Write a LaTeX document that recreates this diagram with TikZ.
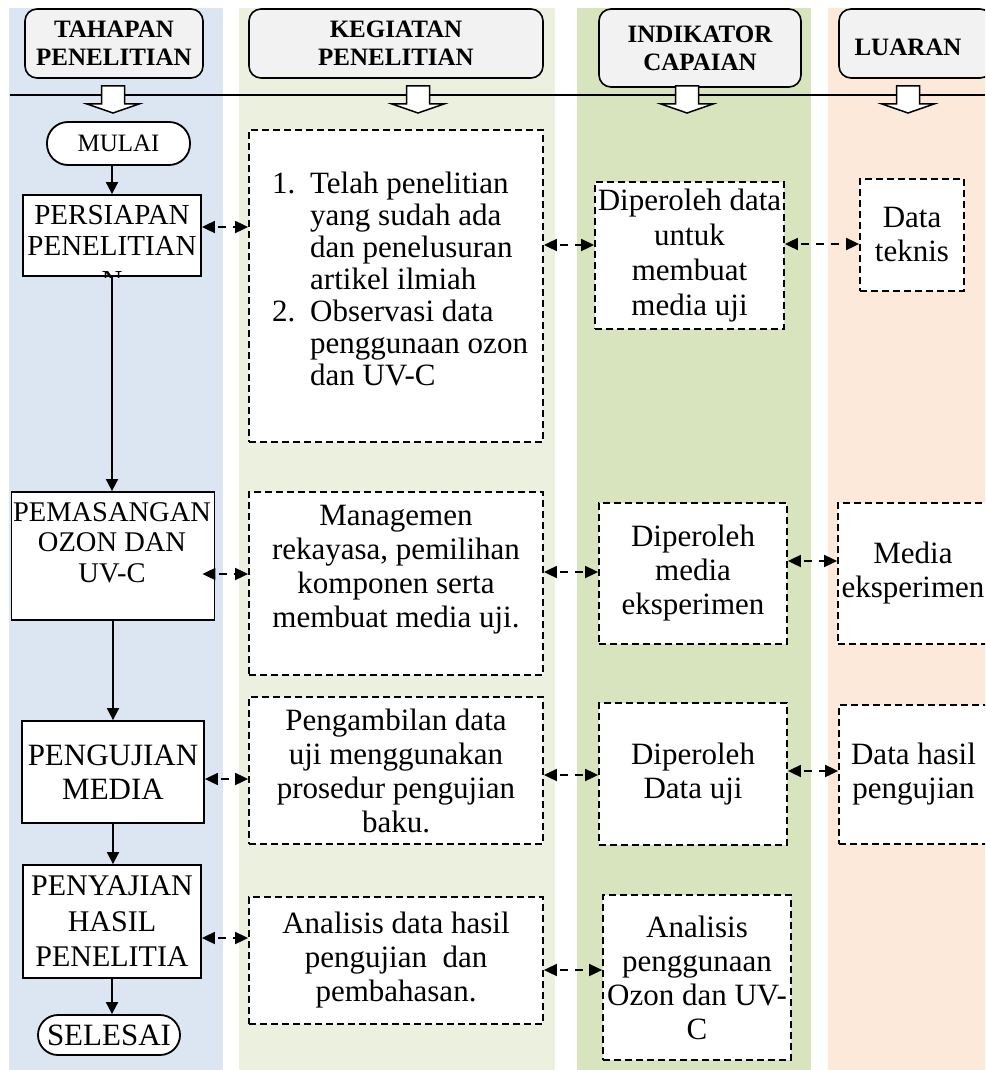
\documentclass[tikz,border=0pt]{standalone}
\usepackage{fontspec}
\setmainfont{Liberation Serif}
\usetikzlibrary{arrows.meta}
\definecolor{cblue}{HTML}{DCE6F2}
\definecolor{clgreen}{HTML}{EBF1DE}
\definecolor{cgreen}{HTML}{D7E4BD}
\definecolor{corange}{HTML}{FDE9D9}
\definecolor{chead}{HTML}{F2F2F2}
\begin{document}
\begin{tikzpicture}[x=1pt,y=-1pt,
  hdr/.style={draw, line width=1.6pt, rounded corners=12pt, fill=chead, inner sep=0pt,
    align=center, font=\fontsize{25}{28}\selectfont\bfseries},
  hdrtxt/.style={inner sep=0pt, align=center, font=\fontsize{25}{28}\selectfont\bfseries},
  solidbox/.style={draw, line width=1.8pt, fill=white, inner sep=0pt, align=center},
  dbox/.style={draw, line width=1.8pt, dash pattern=on 7pt off 4pt, fill=white, inner sep=0pt, align=center},
  body/.style={align=center, inner sep=0pt, font=\fontsize{31}{34}\selectfont},
  flow/.style={line width=1.8pt, -{Triangle[length=12pt,width=12pt]}},
  dbl/.style={line width=1.8pt, dash pattern=on 8pt off 7pt, dash phase=11pt,
    {Triangle[length=13pt,width=12pt]}-{Triangle[length=13pt,width=12pt]}},
  blockar/.style={draw, line width=1.5pt, fill=white, line join=miter}
]
\useasboundingbox (0,0) rectangle (985,1070);
\clip (0,0) rectangle (985,1070);
\fill[white] (0,0) rectangle (985,1070);
% column bands
\fill[cblue] (9,8) rectangle (223,1070);
\fill[clgreen] (239,8) rectangle (555,1070);
\fill[cgreen] (577,8) rectangle (811,1070);
\fill[corange] (828,8) rectangle (985,1070);

% headers
\node[hdr, minimum width=178pt, minimum height=69pt] (hA) at (114,43.5) {TAHAPAN\\PENELITIAN};
\node[hdr, minimum width=294pt, minimum height=69pt] (hB) at (396,43.5) {KEGIATAN\\PENELITIAN};
\node[hdr, minimum width=202pt, minimum height=78pt] (hC) at (700,48) {INDIKATOR\\CAPAIAN};
\node[hdr, minimum width=153pt, minimum height=69pt] (hD) at (915.5,43.5) {};
\node[hdrtxt] (hDt) at (908,47) {LUARAN};

% horizontal rule
\coordinate (hl0) at (10,95);
\coordinate (hl1) at (985,95);
\draw[line width=1.5pt] (hl0) -- (hl1);

% block arrows
\foreach \cx in {113,418,687,908} {
  \draw[blockar] (\cx-11.5,86) -- (\cx+11.5,86) -- (\cx+11.5,104) -- (\cx+26,104)
    -- (\cx,113) -- (\cx-26,104) -- (\cx-11.5,104) -- cycle;
}

% left column
\node[solidbox, rounded corners=21pt, minimum width=143pt, minimum height=43pt,
  font=\fontsize{25}{28}\selectfont] (mulai) at (118.5,143.5) {MULAI};
\node[solidbox, minimum width=178pt, minimum height=81pt] (pers) at (112,235.5) {};
\begin{scope}
  \clip (23,195) rectangle (201,277);
  \node[align=center, inner sep=0pt, font=\fontsize{29}{31}\selectfont] (perst) at (112,248)
    {PERSIAPAN\\PENELITIAN\\[4pt]N};
\end{scope}
\node[solidbox, minimum width=203pt, minimum height=128pt] (pem) at (113,556) {};
\node[align=center, inner sep=0pt, font=\fontsize{28.5}{30.5}\selectfont] (pemt) at (112,542.5)
  {PEMASANGAN\\OZON DAN\\UV-C};
\node[solidbox, minimum width=182pt, minimum height=102pt, font=\fontsize{31}{34}\selectfont]
  (peng) at (113,772) {PENGUJIAN\\MEDIA};
\node[solidbox, minimum width=178pt, minimum height=113pt, font=\fontsize{30}{35.5}\selectfont]
  (peny) at (112,921.5) {PENYAJIAN\\HASIL\\PENELITIA};
\node[solidbox, rounded corners=20pt, minimum width=142pt, minimum height=40pt,
  font=\fontsize{31}{34}\selectfont] (sel) at (109,1035) {SELESAI};

% kegiatan column
\node[dbox, minimum width=294pt, minimum height=312pt] (k1) at (396,286) {};
\node[anchor=west, align=left, inner sep=0pt, font=\fontsize{31}{32}\selectfont] (k1t) at (272,279)
  {\makebox[38pt][l]{1.}Telah penelitian\\
   \makebox[38pt]{}yang sudah ada\\
   \makebox[38pt]{}dan penelusuran\\
   \makebox[38pt]{}artikel ilmiah\\
   \makebox[38pt][l]{2.}Observasi data\\
   \makebox[38pt]{}penggunaan ozon\\
   \makebox[38pt]{}dan UV-C};
\node[dbox, minimum width=294pt, minimum height=183pt] (k2) at (396,583.5) {};
\node[body] (k2t) at (396,570) {Managemen\\rekayasa, pemilihan\\komponen serta\\membuat media uji.};
\node[dbox, body, minimum width=294pt, minimum height=147pt] (k3) at (396,770.5)
  {Pengambilan data\\uji menggunakan\\prosedur pengujian\\baku.};
\node[dbox, body, minimum width=294pt, minimum height=127pt] (k4) at (396,960.5)
  {Analisis data hasil\\pengujian~ dan\\pembahasan.};

% indikator column
\node[dbox, body, minimum width=189pt, minimum height=147pt, font=\fontsize{31}{35}\selectfont] (i1) at (689.5,255.5)
  {Diperoleh data\\untuk\\membuat\\media uji};
\node[dbox, body, minimum width=188pt, minimum height=141pt] (i2) at (693,573.5)
  {Diperoleh\\media\\eksperimen};
\node[dbox, body, minimum width=188pt, minimum height=142pt] (i3) at (693,774)
  {Diperoleh\\Data uji};
\node[dbox, body, minimum width=188pt, minimum height=165pt] (i4) at (697,977.5)
  {Analisis\\penggunaan\\Ozon dan UV-\\C};

% luaran column
\node[dbox, body, minimum width=104pt, minimum height=112pt] (l1) at (912,235) {Data\\teknis};
\node[dbox, body, minimum width=150pt, minimum height=141pt] (l2) at (913,573.5) {Media\\eksperimen};
\node[dbox, body, minimum width=149pt, minimum height=139pt] (l3) at (913.5,774.5) {Data hasil\\pengujian};

% flow connectors
\draw[flow] (mulai.south -| pers.north) -- (pers.north);
\draw[flow] (pers.south) -- (pers.south |- pem.north);
\draw[flow] (pem.south) -- (pem.south |- peng.north);
\draw[flow] (peng.south) -- (peng.south |- peny.north);
\draw[flow] (peny.south) -- (peny.south |- sel.north);

% row coordinates for dashed connectors
\coordinate (r1) at (0,227);
\coordinate (r2) at (0,245);
\coordinate (r3) at (0,244);
\coordinate (r4) at (0,574);
\coordinate (r5) at (0,572);
\coordinate (r6) at (0,561);
\coordinate (r7) at (0,779);
\coordinate (r8) at (0,775);
\coordinate (r9) at (0,771);
\coordinate (r10) at (0,938);
\coordinate (r11) at (0,970);

\draw[dbl] (pers.east |- r1) -- (k1.west |- r1);
\draw[dbl] (k1.east |- r2) -- (i1.west |- r2);
\draw[dbl] (i1.east |- r3) -- (l1.west |- r3);
\draw[dbl, shorten <=-13pt] (pem.east |- r4) -- (k2.west |- r4);
\draw[dbl] (k2.east |- r5) -- (i2.west |- r5);
\draw[dbl] (i2.east |- r6) -- (l2.west |- r6);
\draw[dbl] (peng.east |- r7) -- (k3.west |- r7);
\draw[dbl] (k3.east |- r8) -- (i3.west |- r8);
\draw[dbl] (i3.east |- r9) -- (l3.west |- r9);
\draw[dbl] (peny.east |- r10) -- (k4.west |- r10);
\draw[dbl] (k4.east |- r11) -- (i4.west |- r11);
\end{tikzpicture}
\end{document}
